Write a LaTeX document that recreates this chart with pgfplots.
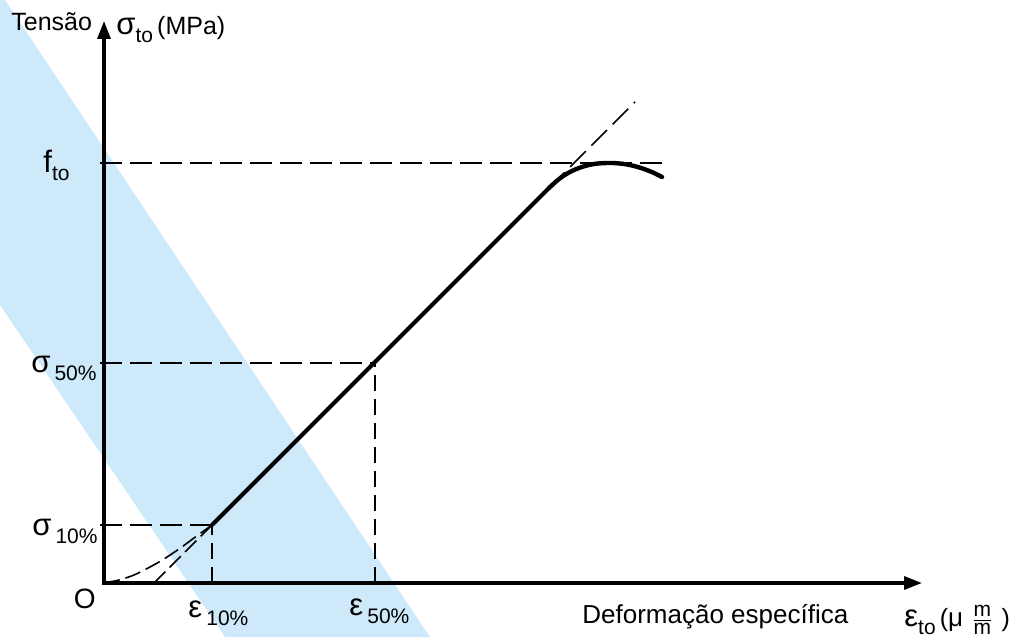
\documentclass[border=0pt]{standalone}
\usepackage{pgfplots}
\pgfplotsset{compat=1.18}
\usetikzlibrary{arrows.meta}
\usepackage{fontspec}
\setmainfont{Liberation Sans}
\definecolor{band}{RGB}{205,233,250}
\newcommand{\gr}[1]{{\fontsize{15.5}{15}\selectfont #1}}
\newcommand{\sub}[1]{\raisebox{-4pt}{\fontsize{10.5}{10}\selectfont #1}}
\newcommand{\tx}{\fontsize{12.5}{14}\selectfont}
\begin{document}
\begin{tikzpicture}
\begin{axis}[hide axis, scale only axis, width=515.5pt, height=318.5pt,
  xmin=-104, xmax=927, ymin=-54, ymax=583, clip=false,
  dsh/.style={line width=0.8pt, dash pattern=on 11pt off 4pt, black}]
\coordinate (LL) at (rel axis cs:0,0);
\coordinate (UR) at (rel axis cs:1,1);
% light blue band
\addplot[fill=band, draw=none] coordinates {(-104,583) (-99,583) (326,-54) (121,-54) (-104,278)} -- cycle;
% dashed guide lines
\addplot[dsh] coordinates {(-4,420) (559,420)};
\addplot[dsh] coordinates {(-4,220) (271,220)};
\addplot[dsh, dash pattern=on 8pt off 4pt] coordinates {(271,0) (271,220)};
\addplot[dsh] coordinates {(-4,58) (108,58)};
\addplot[dsh, dash pattern=on 8pt off 4pt] coordinates {(108,0) (108,58)};
\addplot[dsh] coordinates {(445,395) (531,481)};
\addplot[dsh, dash pattern=on 8pt off 3pt] coordinates {(50,0) (108,58)};
\addplot[dsh, dash pattern=on 8pt off 3pt, smooth] coordinates {(0,0) (15,3) (30,8) (46,16) (60,24) (75,34) (90,45) (108,58)};
% main curve
\addplot[line width=2pt, line cap=round] coordinates {(108,58) (445,395)};
\addplot[line width=2.2pt, line cap=round, smooth] coordinates {(445,395) (455,404) (465,410.5) (475,415) (485,418) (495,419.6) (508,420) (520,419) (530,417) (540,414) (550,410) (558,406)};
% axes
\addplot[line width=1.6pt, -{Triangle[length=9pt,width=6.5pt]}] coordinates {(0,-2) (0,562)};
\addplot[line width=1.6pt, -{Triangle[length=9pt,width=6.5pt]}] coordinates {(-2,0) (818,0)};
% labels
\node[anchor=base west, inner sep=0pt, font=\tx] at (axis cs:-93,552) {Tensão};
\node[anchor=base west, inner sep=0pt, font=\tx] at (axis cs:12,548) {\gr{σ}\sub{to}\,(MPa)};
\node[anchor=base east, inner sep=0pt, font=\tx] at (axis cs:-34,410) {\gr{f}\sub{to}};
\node[anchor=base east, inner sep=0pt, font=\tx] at (axis cs:-7,210) {\gr{σ}\,\sub{50\%}};
\node[anchor=base east, inner sep=0pt, font=\tx] at (axis cs:-6,48) {\gr{σ}\,\sub{10\%}};
\node[anchor=base east, inner sep=0pt, font=\fontsize{14}{14}\selectfont] at (axis cs:-8,-25) {O};
\node[anchor=base west, inner sep=0pt, font=\tx] at (axis cs:84,-34) {\gr{ε}\,\sub{10\%}};
\node[anchor=base west, inner sep=0pt, font=\tx] at (axis cs:245,-32) {\gr{ε}\,\sub{50\%}};
\node[anchor=base west, inner sep=0pt, font=\fontsize{13}{15}\selectfont] at (axis cs:478,-40) {Deformação específica};
\node[anchor=base west, inner sep=0pt, font=\tx] at (axis cs:800,-43) {\gr{ε}\sub{to}\,({\fontsize{13}{13}\selectfont μ}\hspace{4pt}$\frac{\mbox{\fontsize{10.5}{10}\selectfont m}}{\mbox{\fontsize{10.5}{10}\selectfont m}}$\hspace{4pt})};
\end{axis}
\pgfresetboundingbox
\useasboundingbox (LL) rectangle (UR);
\end{tikzpicture}
\end{document}
